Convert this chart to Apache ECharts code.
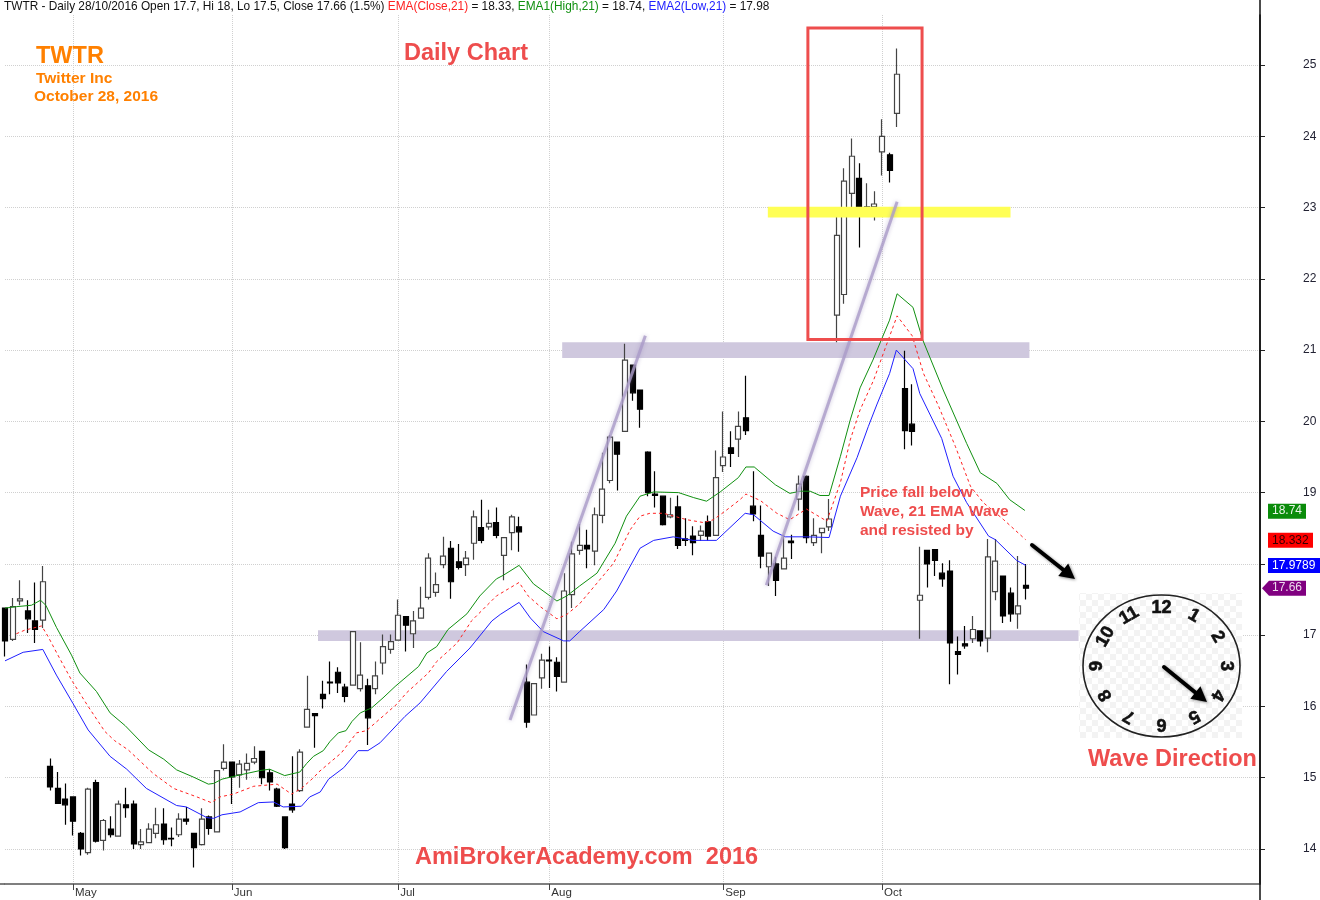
<!DOCTYPE html>
<html><head><meta charset="utf-8">
<style>html,body{margin:0;padding:0;background:#fff}#c{width:1320px;height:900px}</style>
<script src="https://cdn.jsdelivr.net/npm/echarts@6/dist/echarts.min.js"></script>
</head><body><div id="c"></div>
<script>
const monthIndex = {May:9, Jun:30, Jul:52, Aug:72, Sep:95, Oct:116};
const axisSlots = 167;
const priceTicks = [14,15,16,17,18,19,20,21,22,23,24,25];

const opens = [17.38,16.94,17.48,17.34,17.20,17.21,15.16,14.85,14.70,14.73,
14.22,13.95,14.93,14.12,14.28,14.18,14.62,14.63,14.06,14.09,
14.22,14.35,14.15,14.20,14.42,14.22,14.06,14.45,14.24,15.13,
15.22,15.04,15.11,15.22,15.37,15.07,14.84,14.45,14.63,14.82,
15.71,15.90,16.17,16.34,16.48,16.27,16.30,16.25,16.29,16.25,
16.61,16.80,16.93,17.26,17.02,17.24,17.53,17.60,17.99,18.22,
18.03,17.99,18.29,18.51,18.52,18.58,18.12,18.44,18.52,16.34,
15.88,16.40,16.65,16.62,16.34,17.57,18.19,18.26,18.18,18.68,
19.17,19.71,19.86,20.79,20.44,19.57,18.98,18.95,18.66,18.80,
18.35,18.39,18.40,18.59,18.40,19.38,19.63,19.75,20.05,18.81,
18.40,17.96,18.00,17.93,18.32,18.91,19.23,18.30,18.44,18.52,
21.49,21.78,23.20,23.41,22.91,23.01,23.78,23.74,24.32,20.46,
19.96,17.49,18.19,18.20,17.87,17.90,16.77,16.88,16.95,17.06,
16.96,17.61,17.83,17.59,17.30,17.70];
const closes = [16.92,17.40,17.51,17.23,17.08,17.75,14.87,14.64,14.62,14.39,
14.00,14.84,14.11,14.40,14.20,14.63,14.58,14.07,14.10,14.28,
14.34,14.13,14.14,14.42,14.39,14.02,14.42,14.29,15.10,15.22,
15.01,15.19,15.20,15.27,15.00,14.94,14.60,14.02,14.55,15.36,
15.96,15.87,16.11,16.33,16.33,16.14,17.05,16.44,15.84,16.43,
16.84,16.91,17.28,17.14,17.20,17.38,18.08,17.71,18.11,17.75,
17.95,18.08,18.66,18.33,18.57,18.40,18.37,18.66,18.45,15.78,
16.32,16.65,16.64,16.42,17.62,18.14,18.26,18.21,18.69,19.05,
19.78,19.54,20.86,20.40,20.17,19.00,18.96,18.55,18.69,18.26,
18.33,18.30,18.46,18.39,19.21,19.50,19.55,19.93,19.87,18.70,
18.11,18.15,17.77,18.08,18.30,19.12,18.37,18.40,18.50,18.63,
22.61,23.37,23.72,22.95,23.01,23.05,24.00,23.52,24.87,19.87,
19.86,17.56,18.00,18.05,17.79,16.89,16.73,16.85,17.08,16.92,
18.10,18.04,17.27,17.30,17.41,17.66];
const lows = [16.70,16.92,17.42,17.03,16.89,17.10,14.82,14.63,14.34,14.19,
13.91,13.92,14.09,13.98,14.16,14.18,14.44,14.00,14.00,14.08,
14.15,14.06,14.04,14.17,14.34,13.74,14.05,14.20,14.24,15.10,
14.63,14.86,14.97,15.19,14.91,14.82,14.59,14.00,14.51,14.80,
15.71,15.42,15.97,16.17,16.19,16.06,16.30,16.21,15.46,16.17,
16.45,16.74,16.93,16.77,16.82,17.24,17.50,17.54,17.94,17.51,
17.92,17.83,18.06,18.29,18.48,18.36,17.77,18.19,18.17,15.70,
15.88,16.25,16.26,16.21,16.34,17.38,18.13,17.94,17.98,18.57,
19.13,19.03,19.85,20.29,19.91,18.95,18.79,18.54,18.64,18.21,
18.25,18.12,18.32,18.33,18.39,19.29,19.36,19.50,19.81,18.60,
17.94,17.69,17.55,17.93,18.07,18.75,18.29,18.25,18.15,18.46,
21.11,21.65,22.91,22.44,22.87,22.82,23.45,23.35,24.13,19.61,
19.66,16.95,17.67,17.83,17.68,16.31,16.45,16.81,16.89,16.84,
16.76,17.49,17.17,17.19,17.09,17.50];
const highs = [17.38,17.52,17.77,17.49,17.74,17.97,15.27,15.08,14.92,14.74,
14.24,14.86,14.97,14.42,14.46,14.68,14.86,14.68,14.28,14.36,
14.58,14.57,14.30,14.50,14.59,14.22,14.57,14.47,15.10,15.47,
15.22,15.25,15.34,15.44,15.37,15.12,14.86,14.45,15.30,15.40,
16.43,15.90,16.36,16.63,16.55,16.32,17.05,16.90,16.39,16.63,
17.01,17.01,17.50,17.27,17.34,17.68,18.15,17.88,18.38,18.32,
18.28,18.18,18.75,18.90,18.76,18.79,18.37,18.69,18.66,16.59,
16.33,16.74,16.84,16.69,17.87,18.31,18.56,18.48,18.79,19.56,
19.81,19.71,21.09,20.79,20.44,19.58,19.30,18.96,18.93,18.96,
18.64,18.53,18.54,18.68,19.59,20.14,19.86,20.14,20.64,19.30,
18.82,18.15,18.10,18.41,18.41,19.24,19.24,18.64,18.50,18.91,
22.88,23.55,23.97,23.62,23.34,23.23,24.24,23.77,25.23,20.99,
20.52,18.24,18.20,18.20,18.01,18.05,16.98,17.13,17.27,17.06,
18.35,18.35,17.83,17.67,18.11,18.00];

const emaHigh = [[0,17.38],[1.5,17.40],[3.5,17.42],[4.7,17.49],[5.4,17.42],[6.8,17.11],[8.8,16.72],[9.9,16.47],[12.1,16.21],[13.9,15.91],[15.9,15.73],[19,15.39],[21,15.26],[22.7,15.11],[24.9,15.01],[26.9,14.91],[27.6,14.92],[28.7,14.98],[31.1,15.04],[33.7,15.10],[35,15.12],[37,15.03],[39,15.08],[39.9,15.20],[40.8,15.30],[42.1,15.38],[43,15.51],[44.1,15.63],[45.1,15.66],[45.9,15.79],[47,15.91],[48.5,15.98],[50,16.12],[51.6,16.28],[54.7,16.56],[55.8,16.75],[57.1,16.84],[58.6,17.08],[61.1,17.30],[62.8,17.55],[65,17.79],[65.9,17.84],[68,17.98],[69.9,17.72],[73,17.48],[74.3,17.55],[76,17.69],[78.3,17.87],[80.7,18.29],[82.2,18.67],[84,18.95],[85.8,19.01],[89.1,19.00],[91.1,18.93],[92.8,18.88],[94.6,19.01],[97,19.21],[98,19.36],[99.1,19.36],[101.9,19.11],[103.8,18.99],[105.2,19.02],[106.5,19.02],[107.8,18.96],[109,18.96],[110.5,19.51],[111.8,20.02],[113.1,20.47],[114.8,20.86],[117,21.42],[118,21.79],[120.1,21.6],[121.4,21.14],[124.1,20.44],[127.2,19.69],[129,19.28],[131.2,19.13],[132.9,18.90],[134.9,18.75]];
const emaClose = [[1.5,17.02],[2.6,17.07],[4.85,17.13],[5.7,16.98],[7,16.72],[8.8,16.37],[11,16.0],[13.2,15.65],[14.5,15.52],[16.3,15.39],[19.6,15.06],[22.3,14.85],[25.4,14.73],[27.3,14.65],[28.4,14.73],[30.2,14.77],[32.9,14.88],[36,14.91],[37.9,14.77],[39.2,14.85],[40.8,15.0],[41.5,15.08],[44.5,15.35],[46.5,15.63],[47.8,15.66],[51.8,16.03],[53.1,16.19],[56,16.47],[57.1,16.63],[59.8,16.89],[61.7,17.20],[65,17.55],[68,17.74],[69.2,17.55],[70.8,17.40],[73,17.23],[74.3,17.29],[76,17.44],[78.3,17.73],[80.5,18.01],[82.7,18.48],[84,18.67],[85.3,18.71],[87.1,18.71],[90.2,18.62],[92.4,18.58],[93.7,18.62],[95.5,18.76],[97.2,18.90],[98,18.98],[99.9,18.89],[102.1,18.71],[103.8,18.62],[106,18.77],[108.7,18.60],[110.5,19.14],[111.8,19.74],[113.1,20.16],[114.9,20.58],[116.2,20.96],[118,21.48],[120,21.2],[121.5,20.67],[123.5,20.21],[125.7,19.65],[127.7,19.09],[129.4,18.86],[132.1,18.62],[135,18.34]];
const emaLow = [[0,16.64],[2.4,16.76],[5,16.80],[6.8,16.44],[9,16.04],[11,15.67],[13.9,15.30],[16.1,15.12],[18.7,14.85],[22.7,14.61],[24,14.59],[26.7,14.44],[27.6,14.43],[28.7,14.48],[31.1,14.52],[33.5,14.65],[35.5,14.66],[36.8,14.59],[39.2,14.60],[40.3,14.73],[41.7,14.80],[42.8,14.98],[44.8,15.14],[46.7,15.38],[48,15.38],[49.6,15.49],[52.9,15.86],[54.9,16.05],[58.4,16.49],[61.5,16.82],[64.4,17.20],[65.5,17.29],[68,17.46],[69.5,17.24],[71.2,17.05],[73.9,16.92],[74.7,16.92],[76,17.05],[79.2,17.36],[80.9,17.62],[84,18.22],[85.8,18.33],[88.4,18.38],[91,18.33],[94.1,18.33],[97.9,18.71],[99,18.69],[101.6,18.46],[103.2,18.38],[106,18.38],[109,18.37],[110.5,18.95],[112.7,19.49],[114.2,19.93],[115.3,20.23],[117,20.67],[117.9,21.0],[120.1,20.74],[121,20.39],[123.9,19.76],[125.4,19.23],[127.2,18.86],[130.1,18.39],[131,18.34],[133.8,18.05],[135,17.98]];

const supportBands = [[73.7,135.5,20.89,21.11],[41.4,142,16.92,17.07]];
const resistanceHighlight = [[100.9,133,22.86,23.01]];
const redBox = [[106.2,121.3,21.15,25.52]];
const trendLines = [[66.8,15.81,84.7,21.20],[100.7,17.70,118,23.08]];

const tagValues = [18.74,18.332,17.9789,17.66];
const tagLabels = ['18.74','18.332','17.9789','17.66'];
const tagFill = ['#0a8c0a','#ff0000','#0000ff','#800080'];
const tagText = ['#e8f5e8','#300','#fff','#ecd9ec'];
const tagWidth = [38,45,52,38];

const clockNumbers = ['12','1','2','3','4','5','6','7','8','9','10','11'];

const categories = [];
for (let i=0;i<axisSlots;i++) {
  const m = Object.keys(monthIndex).find(k=>monthIndex[k]===i);
  categories.push(m || ('d'+i));
}
const isMonth = (idx,val)=>Object.prototype.hasOwnProperty.call(monthIndex,val);
const candles = opens.map((o,i)=>[o,closes[i],lows[i],highs[i]]);

const chart = echarts.init(document.getElementById('c'),null,{renderer:'canvas'});
const FONT = '"Liberation Sans",Arial,sans-serif';
const RED = '#ee4d4d', ORANGE = '#ff8000';

function rects(name,data,style,z){
  return {name,type:'custom',xAxisIndex:1,data,z,silent:true,clip:false,coordinateSystem:'cartesian2d',
    encode:{x:[0,1],y:[2,3]},
    renderItem:(p,api)=>{
      const a=api.coord([api.value(0),api.value(3)]), b=api.coord([api.value(1),api.value(2)]);
      return {type:'rect',shape:{x:a[0],y:a[1],width:b[0]-a[0],height:b[1]-a[1]},style:Object.assign({},style)};
    }};
}
function textEl(text,x,y,size,color){
  return {type:'text',z:60,silent:true,x,y,style:{text,fill:color,font:`bold ${size}px ${FONT}`,align:'left',verticalAlign:'middle'}};
}
function arrow(x0,y0,x1,y1,w,hl,hw){
  const a=Math.atan2(y1-y0,x1-x0), c=Math.cos(a), s=Math.sin(a);
  const bx=x1-c*hl, by=y1-s*hl;
  const shadow={shadowBlur:3,shadowColor:'rgba(0,0,0,.45)',shadowOffsetX:1,shadowOffsetY:1};
  return [
    {type:'line',z:62,silent:true,shape:{x1:x0,y1:y0,x2:bx,y2:by},style:Object.assign({stroke:'#000',lineWidth:w,lineCap:'round'},shadow)},
    {type:'polygon',z:62,silent:true,shape:{points:[[x1,y1],[bx-s*hw,by+c*hw],[bx+s*hw,by-c*hw]]},style:Object.assign({fill:'#000'},shadow)}
  ];
}
function checker(){
  const k=document.createElement('canvas');k.width=k.height=12;
  const g=k.getContext('2d');g.fillStyle='#fff';g.fillRect(0,0,12,12);
  g.fillStyle='#f3f3f3';g.fillRect(0,0,6,6);g.fillRect(6,6,6,6);
  return k;
}

const header = '{k|TWTR - Daily 28/10/2016 Open 17.7, Hi 18, Lo 17.5, Close 17.66 (1.5%) }{r|EMA(Close,21)}{k| = 18.33, }{g|EMA1(High,21)}{k| = 18.74, }{b|EMA2(Low,21)}{k| = 17.98}';
const hs = {fontFamily:FONT,fontSize:11.85,fontWeight:'normal'};

chart.setOption({
  animation:false,
  backgroundColor:'#fff',
  title:{show:true,text:header,left:4,top:1,padding:0,textStyle:{fontWeight:'normal',rich:{
    k:Object.assign({color:'#111'},hs),r:Object.assign({color:'#ff2020'},hs),
    g:Object.assign({color:'#109010'},hs),b:Object.assign({color:'#2020ff'},hs)}}},
  grid:{left:5,top:15,width:1255,height:869,containLabel:false},
  xAxis:[{type:'category',data:categories,boundaryGap:false,
    axisLine:{show:true,lineStyle:{color:'#555',width:1.5}},
    axisTick:{show:true,length:6,interval:isMonth,lineStyle:{color:'#444'}},
    axisLabel:{show:true,interval:isMonth,align:'left',margin:3,fontFamily:FONT,fontSize:11.5,color:'#333',padding:[0,0,0,2],hideOverlap:false},
    splitLine:{show:true,interval:isMonth,lineStyle:{color:'#d0d0d0',type:'dotted',width:1}}
  },{type:'value',min:0,max:axisSlots-1,show:false,splitLine:{show:false},axisLine:{show:false},axisTick:{show:false},axisLabel:{show:false}}],
  yAxis:{type:'value',position:'right',min:13.5089,max:25.7016,scale:true,
    axisLine:{show:true,onZero:false,lineStyle:{color:'#111',width:1.5}},
    axisTick:{show:true,length:5,customValues:priceTicks,lineStyle:{color:'#222'}},
    axisLabel:{show:true,customValues:priceTicks,margin:43,align:'left',fontFamily:FONT,fontSize:12,color:'#223'},
    splitLine:{show:true,lineStyle:{color:'#d0d0d0',type:'dotted',width:1}}
  },
  series:[
    rects('Bands',supportBands,{fill:'#cfc8de'},1),
    {name:'Price',type:'candlestick',data:candles,z:3,barWidth:5.5,clip:false,
      itemStyle:{color:'#fff',color0:'#000',borderColor:'#444',borderColor0:'#000',borderWidth:1.2}},
    {name:'EMA High',type:'line',xAxisIndex:1,data:emaHigh,z:4,showSymbol:false,silent:true,lineStyle:{color:'#109010',width:1}},
    {name:'EMA Close',type:'line',xAxisIndex:1,data:emaClose,z:4,showSymbol:false,silent:true,lineStyle:{color:'#ff2020',width:1,type:[3,3]}},
    {name:'EMA Low',type:'line',xAxisIndex:1,data:emaLow,z:4,showSymbol:false,silent:true,lineStyle:{color:'#2020ff',width:1}},
    rects('Highlight',resistanceHighlight,{fill:'#ffff55',blend:'multiply'},5),
    rects('Red box',redBox,{fill:null,stroke:RED,lineWidth:3},6),
    {name:'Trend',type:'custom',xAxisIndex:1,data:trendLines,z:5,silent:true,clip:false,coordinateSystem:'cartesian2d',
      encode:{x:[0,2],y:[1,3]},
      renderItem:(p,api)=>{
        const a=api.coord([api.value(0),api.value(1)]), b=api.coord([api.value(2),api.value(3)]);
        return {type:'line',shape:{x1:a[0],y1:a[1],x2:b[0],y2:b[1]},
          style:{stroke:'rgba(170,155,200,.8)',lineWidth:3,shadowBlur:4,shadowColor:'rgba(150,135,185,.6)',blend:'multiply'}};
      }}
  ]
});

/* text, clock and value tags */
const g=[];
g.push(textEl('TWTR',36,57,23.5,ORANGE));
g.push(textEl('Twitter Inc',36,79,15.5,ORANGE));
g.push(textEl('October 28, 2016',34,97,15.5,ORANGE));
g.push(textEl('Daily Chart',404,54,23.5,RED));
g.push(textEl('AmiBrokerAcademy.com  2016',415,858,23.5,RED));
g.push(textEl('Wave Direction',1088,760,23.5,RED));
g.push(textEl('Price fall below',860,493,15.5,RED));
g.push(textEl('Wave, 21 EMA Wave',860,512,15.5,RED));
g.push(textEl('and resisted by',860,531,15.5,RED));

const cx=1161.5, cy=666, rx=78.5, ry=71;
g.push({type:'rect',z:50,silent:true,shape:{x:1079,y:593,width:163,height:145},style:{fill:{image:checker(),repeat:'repeat'}}});
g.push({type:'ellipse',z:51,silent:true,shape:{cx,cy,rx,ry},style:{fill:null,stroke:'#222',lineWidth:1.6}});
clockNumbers.forEach((t,i)=>{
  const ang=(i*30)*Math.PI/180;
  g.push({type:'text',z:52,silent:true,x:cx+Math.sin(ang)*rx*0.825,y:cy-Math.cos(ang)*ry*0.82,rotation:-ang,
    style:{text:t,fill:'#111',stroke:'#111',lineWidth:0.6,font:`bold 18px "Liberation Sans Narrow",${FONT}`,align:'center',verticalAlign:'middle'}});
});
arrow(1164,667,1207,702,4,15,8).forEach(e=>g.push(e));
arrow(1032,545,1075,579,4,15,8).forEach(e=>g.push(e));

tagValues.forEach((v,i)=>{
  const y=chart.convertToPixel({yAxisIndex:0},v);
  if(i===3){
    g.push({type:'polygon',z:55,silent:true,shape:{points:[[1262,y],[1269,y-7.5],[1306,y-7.5],[1306,y+7.5],[1269,y+7.5]]},style:{fill:tagFill[i]}});
  } else {
    g.push({type:'rect',z:55,silent:true,shape:{x:1268,y:y-7.5,width:tagWidth[i],height:15},style:{fill:tagFill[i]}});
  }
  g.push({type:'text',z:56,silent:true,x:1272,y,style:{text:tagLabels[i],fill:tagText[i],font:`12px ${FONT}`,align:'left',verticalAlign:'middle'}});
});
g.push({type:'line',z:40,silent:true,shape:{x1:1260,y1:0,x2:1260,y2:900},style:{stroke:'#111',lineWidth:1.5}});
g.push({type:'line',z:40,silent:true,shape:{x1:0,y1:884,x2:5,y2:884},style:{stroke:'#555',lineWidth:1.5}});
chart.setOption({graphic:{elements:g}});
</script></body></html>
